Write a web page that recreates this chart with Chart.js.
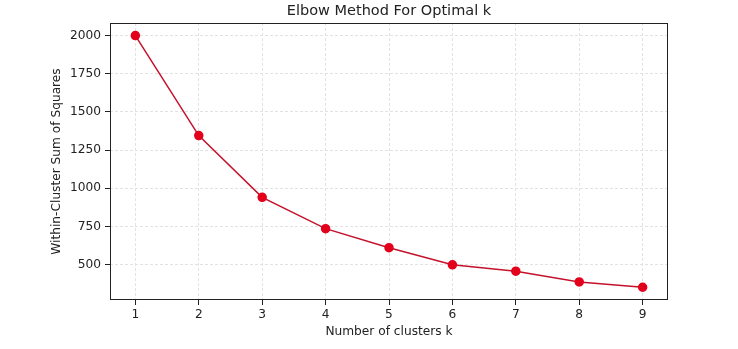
<!DOCTYPE html>
<html>
<head>
<meta charset="utf-8">
<title>Elbow Method For Optimal k</title>
<script src="https://cdn.jsdelivr.net/npm/chart.js@4.4.1/dist/chart.umd.min.js"></script>
<style>
  html, body { margin: 0; padding: 0; background: #fff; }
  canvas { display: block; }
</style>
</head>
<body>
<canvas id="elbow" width="738" height="349"></canvas>
<script>
// k values tried and the resulting inertia (WCSS)
const kValues = [1, 2, 3, 4, 5, 6, 7, 8, 9];
const wcss = [2000, 1345, 940, 735, 610, 498, 456, 386, 351];

const xTicks = [1, 2, 3, 4, 5, 6, 7, 8, 9];
const yTicks = [500, 750, 1000, 1250, 1500, 1750, 2000];

const FONT = 'DejaVu Sans, sans-serif';
const INK = '#222';

// full box around the plot area like matplotlib spines
const frame = {
  id: 'frame',
  afterDraw(chart) {
    const { ctx, chartArea: a } = chart;
    ctx.save();
    ctx.strokeStyle = INK;
    ctx.lineWidth = 1;
    ctx.strokeRect(Math.round(a.left) + 0.5, Math.round(a.top) + 0.5,
      Math.round(a.right - a.left) - 1, Math.round(a.bottom - a.top) - 1);
    ctx.restore();
  }
};

const points = kValues.map((k, i) => ({ x: k, y: wcss[i] }));

new Chart(document.getElementById('elbow'), {
  type: 'line',
  data: {
    datasets: [{
      data: points,
      borderColor: '#c4122c',
      borderWidth: 1.5,
      pointBackgroundColor: '#e3001b',
      pointBorderColor: '#e3001b',
      pointRadius: 4,
      pointHoverRadius: 4,
      tension: 0
    }]
  },
  options: {
    responsive: false,
    animation: false,
    layout: { padding: { left: 0, right: 70, top: 0, bottom: 0 } },
    plugins: {
      legend: { display: false },
      tooltip: { enabled: false },
      title: {
        display: true,
        text: 'Elbow Method For Optimal k',
        fullSize: false,
        color: INK,
        font: { family: FONT, size: 14.5, weight: 'normal' },
        padding: { top: 3, bottom: 2.6 }
      }
    },
    scales: {
      x: {
        type: 'linear',
        min: 0.6,
        max: 9.4,
        afterBuildTicks: s => { s.ticks = xTicks.map(v => ({ value: v })); },
        afterFit: s => { s.height = 49; },
        ticks: {
          color: INK,
          padding: 3,
          maxRotation: 0,
          font: { family: FONT, size: 12.2 },
          callback: v => String(v)
        },
        grid: {
          color: '#e2e2e2',
          lineWidth: 1,
          tickLength: 5,
          tickColor: INK,
          tickWidth: 1
        },
        border: { display: false, dash: [3, 2] },
        title: {
          display: true,
          text: 'Number of clusters k',
          color: INK,
          font: { family: FONT, size: 12.2 },
          padding: { top: 0, bottom: 9.7 }
        }
      },
      y: {
        min: 267.5,
        max: 2082.5,
        afterBuildTicks: s => { s.ticks = yTicks.map(v => ({ value: v })); },
        afterFit: s => { s.width = 110; },
        ticks: {
          color: INK,
          padding: 4,
          font: { family: FONT, size: 12.2 },
          callback: v => String(v)
        },
        grid: {
          color: '#e2e2e2',
          lineWidth: 1,
          tickLength: 5,
          tickColor: INK,
          tickWidth: 1
        },
        border: { display: false, dash: [3, 2] },
        title: {
          display: true,
          text: 'Within-Cluster Sum of Squares',
          color: INK,
          font: { family: FONT, size: 12.2 },
          padding: { top: 49.7, bottom: 0 }
        }
      }
    }
  },
  plugins: [frame]
});
</script>
</body>
</html>
